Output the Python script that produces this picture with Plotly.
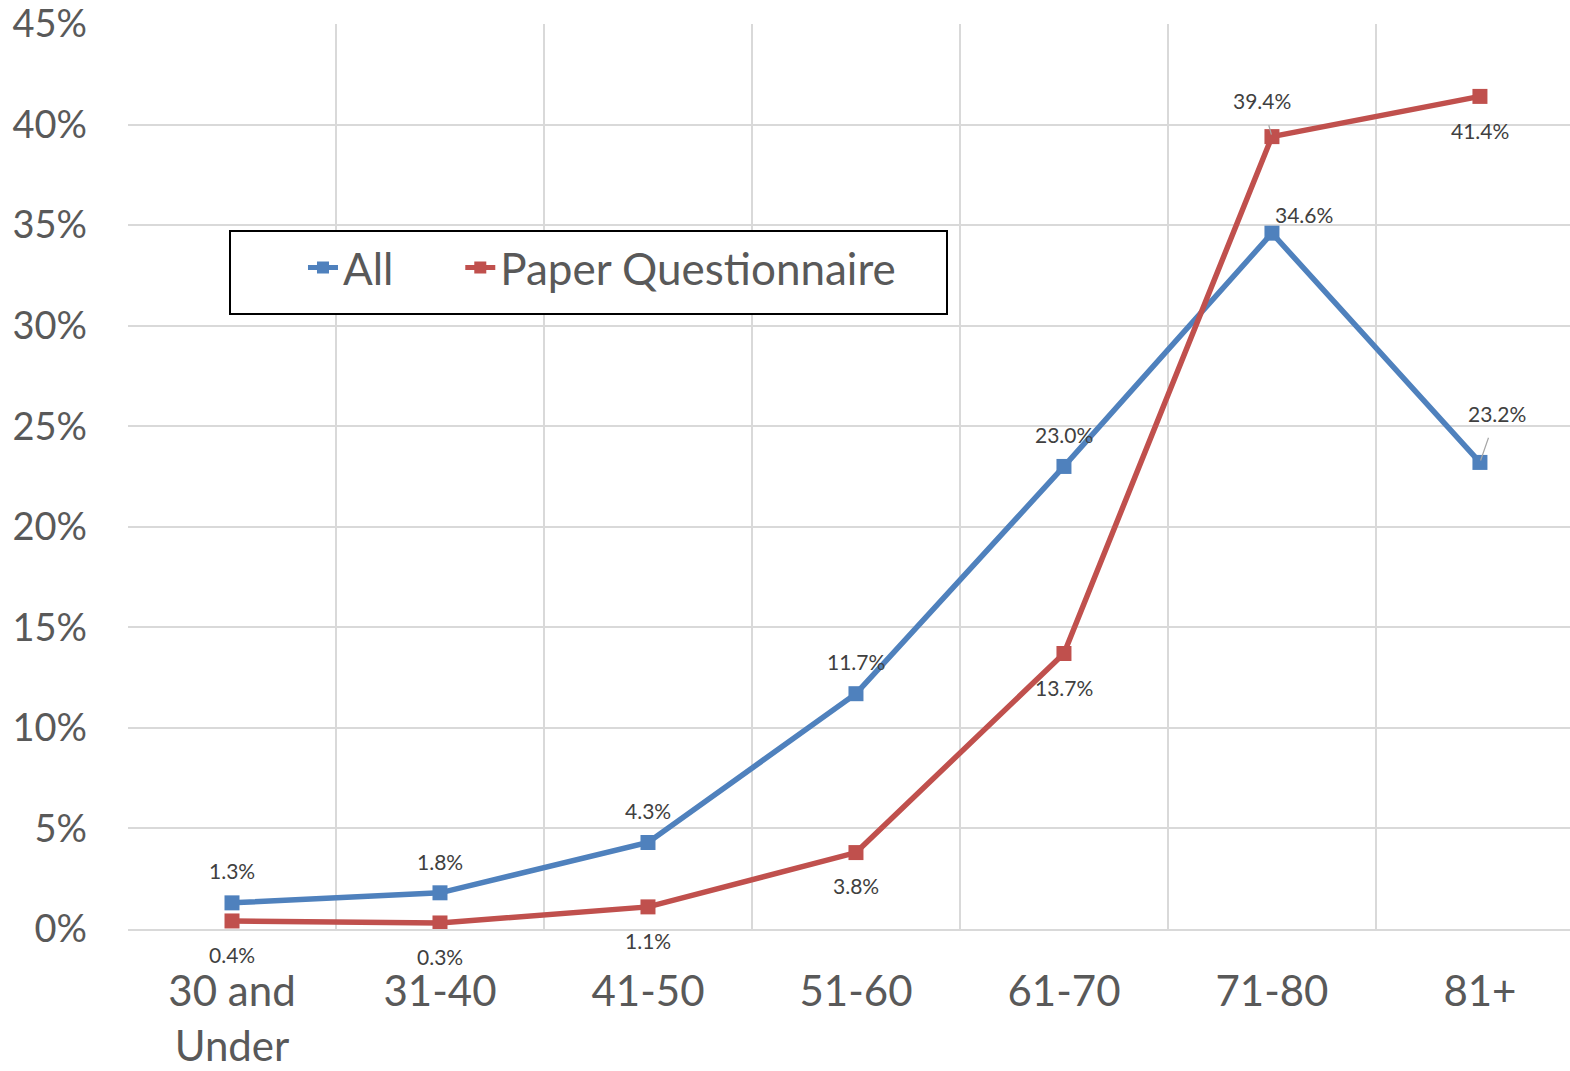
import plotly.graph_objects as go

categories = ["30 and<br>Under", "31-40", "41-50", "51-60", "61-70", "71-80", "81+"]
all_vals = [1.3, 1.8, 4.3, 11.7, 23.0, 34.6, 23.2]
paper_vals = [0.4, 0.3, 1.1, 3.8, 13.7, 39.4, 41.4]
y_ticks = [0, 5, 10, 15, 20, 25, 30, 35, 40, 45]

BLUE = "#4f81bd"
RED = "#c0504d"
FONT = "Lato"
LABEL_SIZE = 21
NB = "\u00a0"
TH = "\u2009"

# label offsets (pixels): (xshift, yshift, leader)
all_offsets = [(0, 32, False), (0, 31, False), (0, 32, False), (0, 32, False),
               (0, 32, False), (32, 19, False), (17, 49, True)]
paper_offsets = [(0, -34, False), (0, -34, False), (0, -34, False), (0, -33, False),
                 (0, -34, False), (-10, 36, True), (0, -34, False)]

fig = go.Figure()
fig.add_trace(go.Scatter(
    x=categories, y=all_vals, name="All" + NB * 5 + TH, mode="lines+markers",
    line=dict(color=BLUE, width=5.5), marker=dict(symbol="square", size=15, color=BLUE)))
fig.add_trace(go.Scatter(
    x=categories, y=paper_vals, name="Paper Questionnaire" + NB * 4, mode="lines+markers",
    line=dict(color=RED, width=5.5), marker=dict(symbol="square", size=15, color=RED)))

annotations = []
for vals, offs in ((all_vals, all_offsets), (paper_vals, paper_offsets)):
    for c, v, (dx, dy, leader) in zip(categories, vals, offs):
        txt = f"{v:.1f}%"
        if leader:
            annotations.append(dict(
                x=c, y=v, xref="x", yref="y", text=txt, showarrow=True,
                ax=dx, ay=-dy, arrowhead=0, arrowwidth=1.2, arrowcolor="#a6a6a6",
                standoff=2, startstandoff=11,
                font=dict(family=FONT, size=LABEL_SIZE, color="#404040")))
        else:
            annotations.append(dict(
                x=c, y=v, xref="x", yref="y", text=txt, showarrow=False,
                xshift=dx, yshift=dy,
                font=dict(family=FONT, size=LABEL_SIZE, color="#404040")))

fig.update_layout(
    width=1570, height=1071,
    margin=dict(l=128, r=0, t=24, b=142),
    paper_bgcolor="white", plot_bgcolor="white",
    font=dict(family=FONT, color="#595959"),
    annotations=annotations,
    legend=dict(
        orientation="h", x=0.07, y=0.772, xanchor="left", yanchor="top",
        bordercolor="black", borderwidth=2, bgcolor="white",
        font=dict(family=FONT, size=44, color="#595959"),
        title=dict(text=NB * 4 + TH, side="left", font=dict(family=FONT, size=54)),
        itemsizing="constant",
    ),
    xaxis=dict(
        type="category", range=[-0.5, 6.433], tickson="boundaries",
        showgrid=True, gridcolor="#d9d9d9", gridwidth=2,
        ticks="", ticklabelstandoff=25,
        tickfont=dict(family=FONT, size=42, color="#595959"),
        showline=True, linecolor="#d9d9d9", linewidth=2,
        zeroline=False, fixedrange=True,
    ),
    yaxis=dict(
        range=[0, 45], tickvals=y_ticks, ticktext=[f"{t}%" for t in y_ticks],
        showgrid=True, gridcolor="#d9d9d9", gridwidth=2,
        tickfont=dict(family=FONT, size=38, color="#595959"),
        ticklabelstandoff=40, ticklabeloverflow="allow",
        zeroline=False, showline=False, fixedrange=True,
    ),
)

fig.write_html("out.html", config={"displayModeBar": False},
               post_script="document.body.style.margin='0';")
